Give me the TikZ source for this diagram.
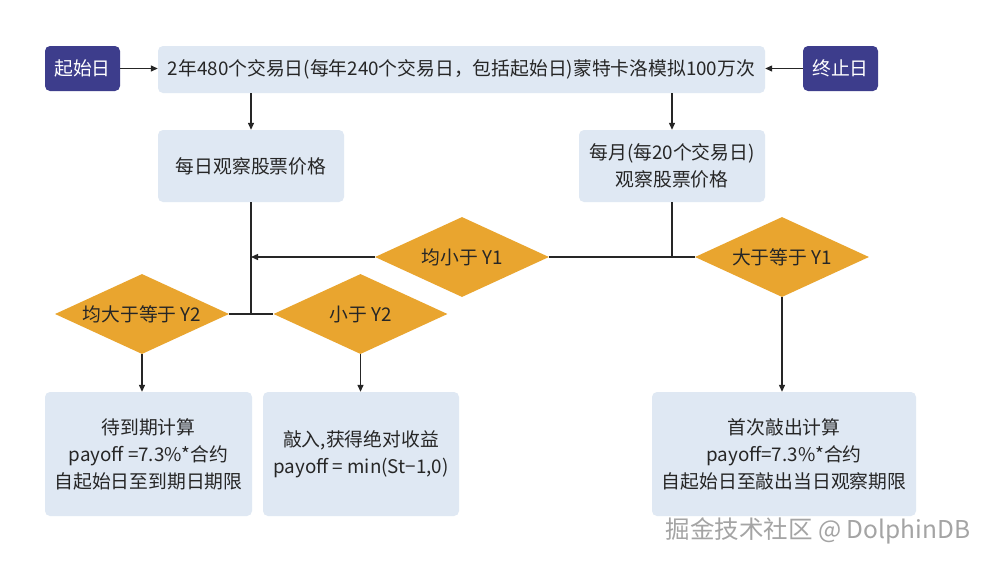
\documentclass[tikz,border=0pt]{standalone}
\usepackage{fontspec}
\setmainfont{Noto Sans CJK SC}
\usetikzlibrary{shapes.geometric,arrows.meta}
\definecolor{navy}{HTML}{3D3D8C}
\definecolor{lightbox}{HTML}{DFE8F3}
\definecolor{gold}{HTML}{E9A52F}
\definecolor{txt}{HTML}{262626}
\definecolor{wm}{HTML}{A4A4A4}
\tikzset{
 base/.style={font=\fontsize{18.8}{27}\selectfont, text=txt},
 navybox/.style={base, fill=navy, text=white, rounded corners=5pt, minimum width=75pt, minimum height=45pt, inner sep=0pt},
 bluebox/.style={base, fill=lightbox, rounded corners=5pt, align=center, inner sep=0pt},
 decision/.style={base, diamond, fill=gold, minimum width=174pt, minimum height=80pt, aspect=2.175, inner sep=0pt},
 conn/.style={line width=1.3pt, draw=txt},
 arr/.style={conn, -{Triangle[length=7pt,width=6pt]}},
 watermark/.style={font=\fontsize{24.5}{27}\selectfont, text=wm, inner sep=0pt}
}
\begin{document}
\begin{tikzpicture}[x=1pt,y=-1pt]
\useasboundingbox[fill=white] (0,0) rectangle (993,563);
\node[navybox] (start) at (82.5,68.5) {起始日};
\node[bluebox, minimum width=607pt, minimum height=47pt] (top) at (461.5,69.5) {2年480个交易日(每年240个交易日，包括起始日)蒙特卡洛模拟100万次};
\node[navybox] (end) at (840.5,68.5) {终止日};
\node[bluebox, minimum width=186pt, minimum height=72pt] (daily) at (251,166) {每日观察股票价格};
\node[bluebox, minimum width=186pt, minimum height=72pt] (monthly) at (672,166) {每月(每20个交易日)\\观察股票价格};
\node[decision] (d1a) at (462,257) {均小于 Y1};
\node[decision] (d1b) at (782,257) {大于等于 Y1};
\node[decision] (d2a) at (142,314) {均大于等于 Y2};
\node[decision] (d2b) at (360.5,314) {小于 Y2};
\node[bluebox, minimum width=207pt, minimum height=124pt] (r1) at (148.5,454) {待到期计算\\payoff =7.3\%*合约\\自起始日至到期日期限};
\node[bluebox, minimum width=196pt, minimum height=124pt] (r2) at (361,454) {敲入,获得绝对收益\\payoff = min(St−1,0)};
\node[bluebox, minimum width=264pt, minimum height=124pt] (r3) at (784,454) {首次敲出计算\\payoff=7.3\%*合约\\自起始日至敲出当日观察期限};
\node[watermark] (wm) at (818,531) {掘金技术社区 @ DolphinDB};
% connectors
\draw[arr] (start.east) -- (top.west |- start.east);
\draw[arr] (end.west) -- (top.east |- end.west);
\draw[arr] (top.south -| daily.north) -- (daily.north);
\draw[arr] (top.south -| monthly.north) -- (monthly.north);
\draw[conn] (daily.south) -- (daily.south |- d2a.east);
\draw[conn] (d2a.east) -- (d2b.west);
\draw[arr] (d1a.west) -- (d1a.west -| daily.south);
\draw[conn] (monthly.south) -- (monthly.south |- d1a.east);
\draw[conn] (d1a.east) -- (d1b.west);
\draw[arr] (d2a.south) -- (d2a.south |- r1.north);
\draw[arr] (d2b.south) -- (d2b.south |- r2.north);
\draw[arr] (d1b.south) -- (d1b.south |- r3.north);
\end{tikzpicture}
\end{document}
